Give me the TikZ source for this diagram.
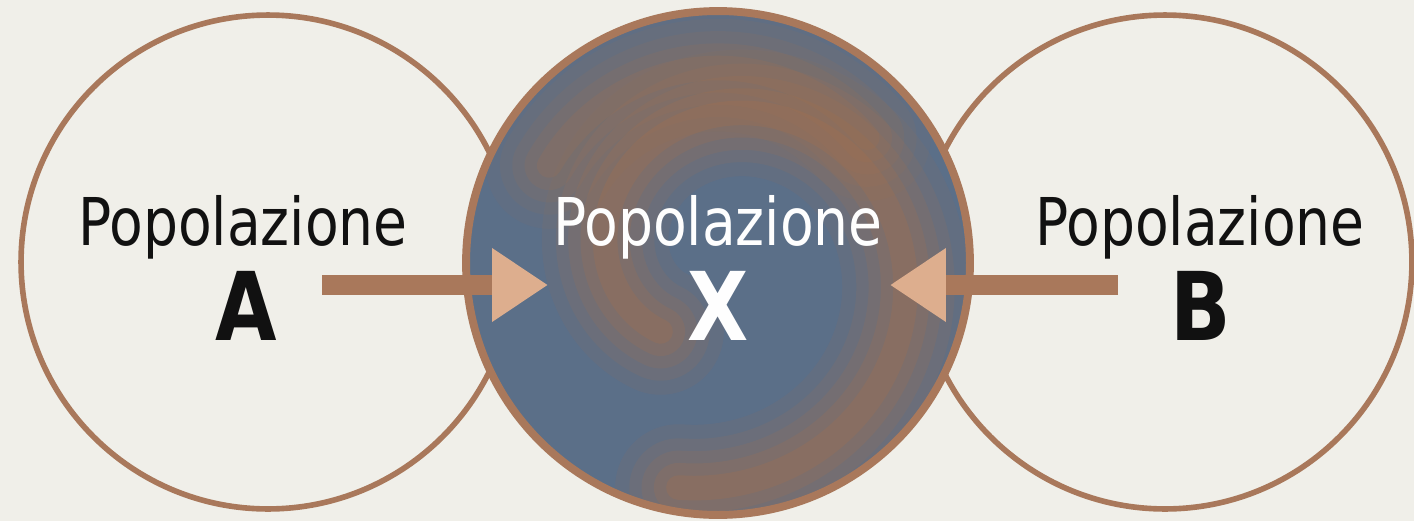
\documentclass[tikz,border=0pt]{standalone}
\usepackage{fontspec}
\usetikzlibrary{arrows.meta}
\newfontfamily\popfont[FakeStretch=0.93]{DejaVu Sans Condensed}
\definecolor{paper}{HTML}{F0EFE9}
\definecolor{copper}{HTML}{A9785B}
\definecolor{copperdeep}{HTML}{A86E4B}
\definecolor{copperlight}{HTML}{DDAE8E}
\definecolor{slate}{HTML}{5B6F88}
\definecolor{ink}{HTML}{111111}
\begin{document}
\begin{tikzpicture}[x=0.02cm,y=-0.02cm,
  ring/.style={circle,draw=copper,line width=3.2pt,inner sep=0pt},
  poplabel/.style={anchor=base,font=\popfont\fontsize{37.5}{40}\selectfont},
  popletter/.style={anchor=base,font=\popfont\bfseries\fontsize{54}{56}\selectfont},
  flow/.style={copper,line width=0.4cm,-{Triangle[length=1.12cm,width=1.4cm,fill=copperlight,color=copperlight]}},
  swirl/.style={copperdeep,line cap=round}]
\fill[paper] (0,0) rectangle (1414,521);
\useasboundingbox (0,0) rectangle (1414,521);
\node[ring,minimum size=9.88cm] (popA) at (268,262) {};
\node[ring,minimum size=9.88cm] (popB) at (1165,262) {};
\fill[slate] (718,263) circle (5.04cm);
% swirl inside X
\begin{scope}
  \clip (718,263) circle (5.04cm);
  \foreach \w/\o in {72/0.1,56/0.13,42/0.16,28/0.2,14/0.25}{
    \draw[swirl,line width=\w pt,opacity=\o] plot[domain=230:-100,samples=90,smooth]
      ({718+(60+(300-\x)*0.42)*cos(\x)},{263-(60+(300-\x)*0.42)*sin(\x)});
    \draw[swirl,line width=\w pt,opacity=0.7*\o] plot[domain=150:40,samples=30,smooth]
      ({718+195*cos(\x)},{263-195*sin(\x)});
  }
\end{scope}
\node[ring,line width=4.5pt,minimum size=10.08cm] (popX) at (718,263) {};
\node[poplabel,ink] (nameA) at (243,245) {Popolazione};
\node[popletter,ink] (letA) at (246,340) {A};
\node[poplabel,white!95!paper] (nameX) at (718,245) {Popolazione};
\node[popletter,white!95!paper] (letX) at (718,340) {X};
\node[poplabel,ink] (nameB) at (1200,245) {Popolazione};
\node[popletter,ink] (letB) at (1201,340) {B};
\coordinate (fromA) at (322,285);
\coordinate (intoXa) at (548,285);
\coordinate (fromB) at (1118,285);
\coordinate (intoXb) at (890,285);
\draw[flow] (fromA) -- (intoXa);
\draw[flow] (fromB) -- (intoXb);
\end{tikzpicture}
\end{document}
